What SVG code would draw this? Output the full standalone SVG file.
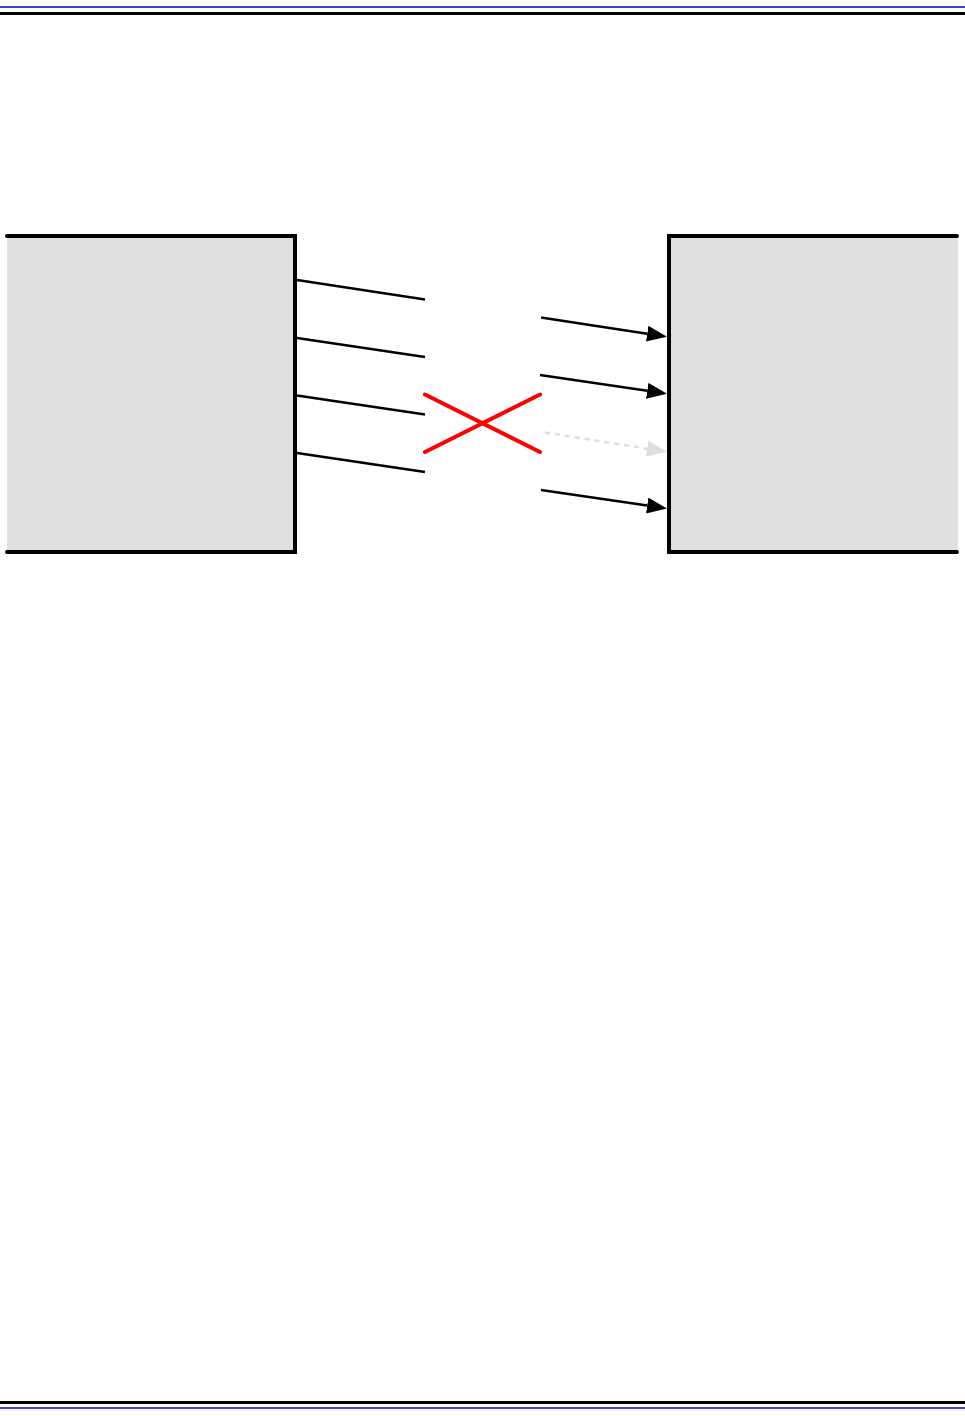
<svg xmlns="http://www.w3.org/2000/svg" width="965" height="1416" viewBox="0 0 965 1416">
<style>
.rule-blue{stroke:#0000b0;stroke-width:1.5;}
.rule-black{stroke:#000;stroke-width:3;}
.box-fill{fill:#dfdfdf;stroke:none;}
.box-edge{fill:none;stroke:#000;stroke-width:4;stroke-linecap:round;stroke-linejoin:miter;}
.wire{stroke:#000;stroke-width:2.5;fill:none;}
.ghost{stroke:#dedede;stroke-width:2.5;stroke-dasharray:5 5;fill:none;}
.cross{stroke:#ff0000;stroke-width:4;stroke-linecap:round;fill:none;}
</style>
<defs>
<marker id="ah" markerUnits="userSpaceOnUse" markerWidth="20" markerHeight="16" refX="0" refY="8" orient="auto" viewBox="0 0 20 16">
<path d="M0,0 L20,8 L0,16 Z" fill="#000"/>
</marker>
<marker id="ahg" markerUnits="userSpaceOnUse" markerWidth="20" markerHeight="16" refX="0" refY="8" orient="auto" viewBox="0 0 20 16">
<path d="M0,0 L20,8 L0,16 Z" fill="#dedede"/>
</marker>
</defs>
<rect width="965" height="1416" fill="#fff"/>
<g id="header">
<line class="rule-blue" x1="0" y1="7" x2="965" y2="7"/>
<line class="rule-black" x1="0" y1="13.5" x2="965" y2="13.5"/>
</g>
<g id="footer">
<line class="rule-black" x1="0" y1="1402.5" x2="965" y2="1402.5"/>
<line class="rule-blue" x1="0" y1="1408" x2="965" y2="1408" style="stroke:#0000ff"/>
</g>
<g id="left-box">
<rect class="box-fill" x="7" y="236" width="288" height="316"/>
<path class="box-edge" d="M7,236 H295 V552 H7"/>
</g>
<g id="right-box">
<rect class="box-fill" x="669" y="236" width="289" height="316"/>
<path class="box-edge" d="M957,236 H669 V552 H957"/>
</g>
<g id="connectors">
<line class="wire" x1="297" y1="280" x2="425" y2="299.5"/>
<line class="wire" x1="297" y1="338" x2="425" y2="357"/>
<line class="wire" x1="297" y1="395.5" x2="425" y2="414.5"/>
<line class="wire" x1="297" y1="453" x2="425" y2="472"/>
<line class="wire" x1="541" y1="317.5" x2="647.2" y2="333.7" marker-end="url(#ah)"/>
<line class="wire" x1="540" y1="375" x2="647.2" y2="390.8" marker-end="url(#ah)"/>
<line class="ghost" x1="545" y1="432.5" x2="647.2" y2="448.7" marker-end="url(#ahg)"/>
<line class="wire" x1="541" y1="490" x2="647.2" y2="505.5" marker-end="url(#ah)"/>
<line class="cross" x1="425" y1="394.5" x2="540" y2="452"/>
<line class="cross" x1="425" y1="452" x2="540" y2="394.5"/>
</g>
</svg>
